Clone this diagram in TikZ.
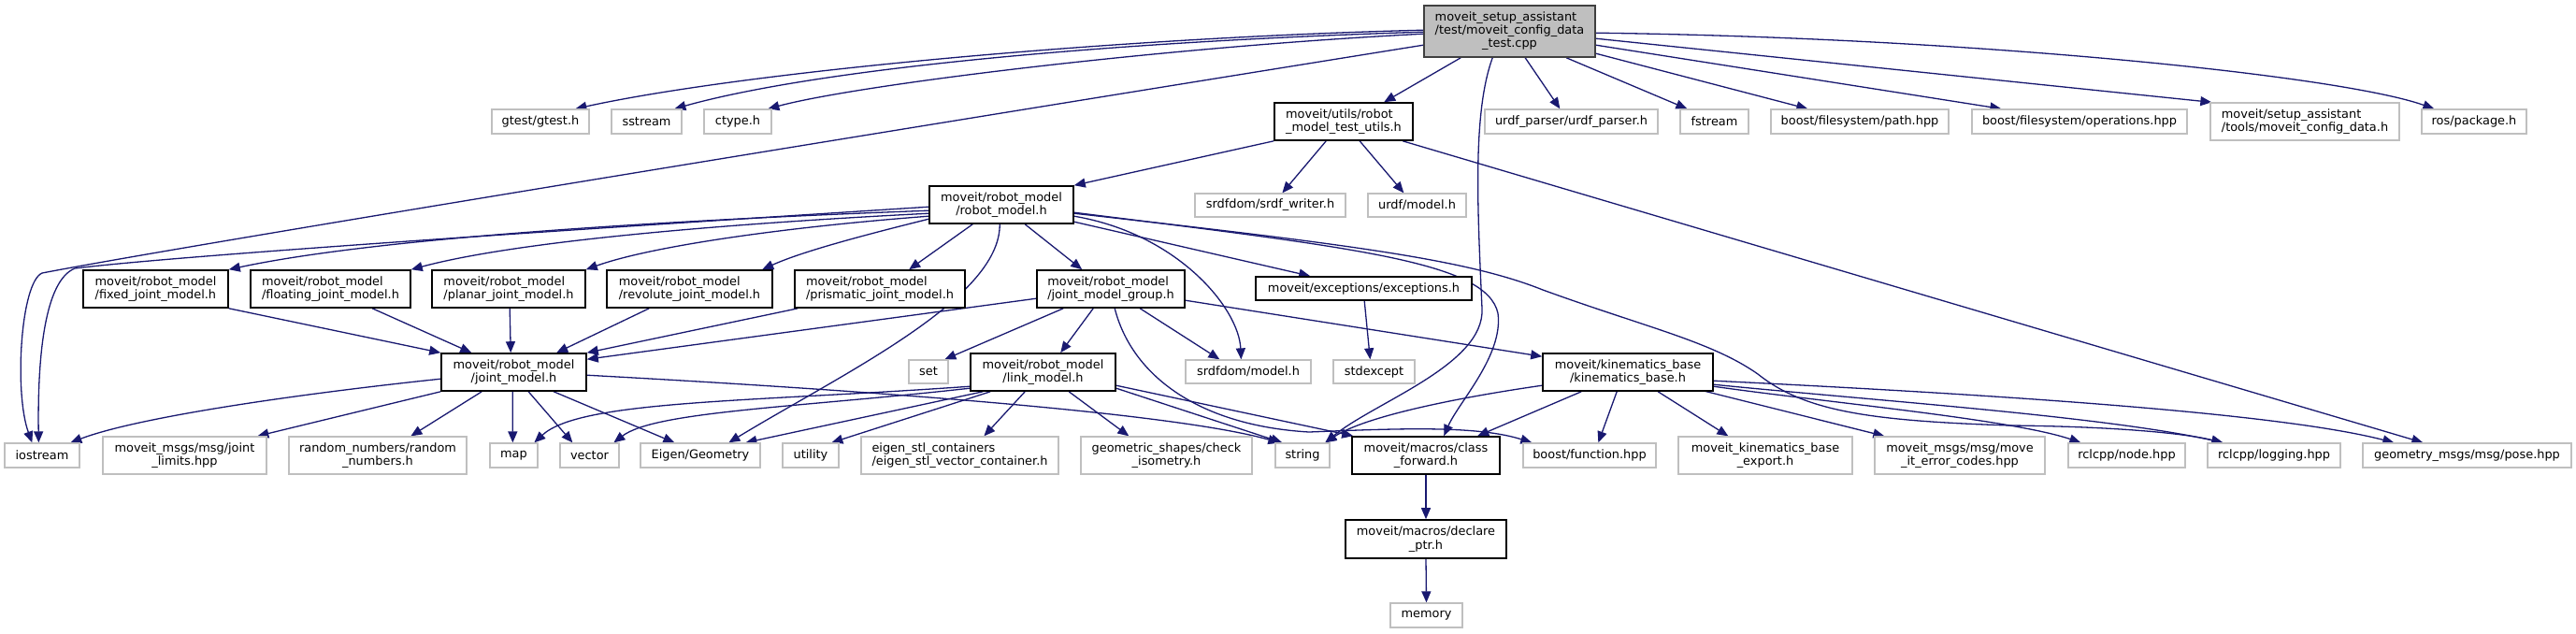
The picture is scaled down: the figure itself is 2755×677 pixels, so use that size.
\documentclass[tikz,border=0pt]{standalone}
\usepackage{fontspec}
\setmainfont{DejaVu Sans}
\usetikzlibrary{arrows.meta,calc}
\definecolor{edgec}{HTML}{191970}
\definecolor{grayb}{HTML}{BFBFBF}
\definecolor{mainf}{HTML}{BFBFBF}
\definecolor{mainb}{HTML}{404040}
\pgfdeclarelayer{bg}
\pgfsetlayers{bg,main}
\newcommand\mknode[7]{\node[#6,minimum width={(#4-#2)*0.5pt},minimum height={(#5-#3)*0.5pt}] (#1) at ({(#2+#4)/2},{(#3+#5)/2}) {#7};}
\begin{document}
\begin{tikzpicture}[x=0.5pt,y=-0.5pt,
  font=\fontsize{6.45pt}{7.15pt}\selectfont,
  gb/.style={draw=grayb,line width=0.65pt,fill=white,inner sep=0pt,align=center},
  bb/.style={draw=black,line width=0.8pt,fill=white,inner sep=0pt,align=center},
  mb/.style={draw=mainb,line width=0.8pt,fill=mainf,inner sep=0pt,align=center},
  lf/.style={align=left},
  e/.style={draw=edgec,line width=0.65pt,-{Triangle[length=6pt,width=5pt]}}]
\path[use as bounding box] (0,0) rectangle (2755,677);
% row 0
\mknode{main}{1523}{6}{1706}{61}{mb}{\begin{tabular}{@{}l@{}}moveit\_setup\_assistant\\/test/moveit\_config\_data\\\multicolumn{1}{@{}c@{}}{\_test.cpp}\end{tabular}}
% row 1
\mknode{gtest}{526}{117}{630}{143}{gb}{gtest/gtest.h}
\mknode{sstream}{654}{117}{729}{143}{gb}{sstream}
\mknode{ctype}{753}{117}{825}{143}{gb}{ctype.h}
\mknode{utils}{1363}{110}{1511}{150}{bb,lf}{moveit/utils/robot\\\_model\_test\_utils.h}
\mknode{urdfp}{1588}{117}{1773}{143}{gb}{urdf\_parser/urdf\_parser.h}
\mknode{fstream}{1797}{117}{1870}{143}{gb}{fstream}
\mknode{path}{1894}{117}{2084}{143}{gb}{boost/filesystem/path.hpp}
\mknode{ops}{2109}{117}{2339}{143}{gb}{boost/filesystem/operations.hpp}
\mknode{tools}{2364}{110}{2566}{150}{gb,lf}{moveit/setup\_assistant\\/tools/moveit\_config\_data.h}
\mknode{ros}{2590}{117}{2702}{143}{gb}{ros/package.h}
% row 2
\mknode{rm}{994}{199}{1148}{239}{bb}{moveit/robot\_model\\/robot\_model.h}
\mknode{srdfw}{1278}{207}{1439}{232}{gb}{srdfdom/srdf\_writer.h}
\mknode{urdfm}{1463}{207}{1568}{232}{gb}{urdf/model.h}
% row 3
\mknode{fixed}{89}{289}{244}{329}{bb,lf}{moveit/robot\_model\\/fixed\_joint\_model.h}
\mknode{floating}{268}{289}{439}{329}{bb,lf}{moveit/robot\_model\\/floating\_joint\_model.h}
\mknode{planar}{462}{289}{626}{329}{bb,lf}{moveit/robot\_model\\/planar\_joint\_model.h}
\mknode{revolute}{649}{289}{826}{329}{bb,lf}{moveit/robot\_model\\/revolute\_joint\_model.h}
\mknode{prismatic}{850}{289}{1032}{329}{bb,lf}{moveit/robot\_model\\/prismatic\_joint\_model.h}
\mknode{jmg}{1109}{289}{1267}{329}{bb,lf}{moveit/robot\_model\\/joint\_model\_group.h}
\mknode{exc}{1343}{296}{1574}{321}{bb}{moveit/exceptions/exceptions.h}
% row 4
\mknode{jm}{472}{378}{627}{418}{bb}{moveit/robot\_model\\/joint\_model.h}
\mknode{set}{972}{385}{1014}{410}{gb}{set}
\mknode{lm}{1038}{378}{1193}{418}{bb}{moveit/robot\_model\\/link\_model.h}
\mknode{srdfm}{1268}{385}{1402}{410}{gb}{srdfdom/model.h}
\mknode{stdexc}{1426}{385}{1513}{410}{gb}{stdexcept}
\mknode{kb}{1650}{378}{1832}{418}{bb}{moveit/kinematics\_base\\/kinematics\_base.h}
% row 5
\mknode{iostream}{5}{474}{85}{500}{gb}{iostream}
\mknode{jl}{110}{467}{285}{507}{gb}{moveit\_msgs/msg/joint\\\_limits.hpp}
\mknode{rn}{309}{467}{499}{507}{gb}{random\_numbers/random\\\_numbers.h}
\mknode{map}{524}{474}{575}{500}{gb}{map}
\mknode{vector}{599}{474}{662}{500}{gb}{vector}
\mknode{eigen}{685}{474}{813}{500}{gb}{Eigen/Geometry}
\mknode{utility}{837}{474}{897}{500}{gb}{utility}
\mknode{estl}{921}{467}{1132}{507}{gb,lf}{eigen\_stl\_containers\\/eigen\_stl\_vector\_container.h}
\mknode{geo}{1156}{467}{1339}{507}{gb}{geometric\_shapes/check\\\_isometry.h}
\mknode{string}{1364}{474}{1422}{500}{gb}{string}
\mknode{cf}{1446}{467}{1604}{507}{bb}{moveit/macros/class\\\_forward.h}
\mknode{bf}{1629}{474}{1771}{500}{gb}{boost/function.hpp}
\mknode{kbe}{1795}{467}{1981}{507}{gb}{moveit\_kinematics\_base\\\_export.h}
\mknode{ec}{2005}{467}{2187}{507}{gb}{moveit\_msgs/msg/move\\\_it\_error\_codes.hpp}
\mknode{node}{2212}{474}{2337}{500}{gb}{rclcpp/node.hpp}
\mknode{log}{2361}{474}{2503}{500}{gb}{rclcpp/logging.hpp}
\mknode{pose}{2527}{474}{2750}{500}{gb}{geometry\_msgs/msg/pose.hpp}
% row 6-7
\mknode{dp}{1439}{556}{1611}{597}{bb}{moveit/macros/declare\\\_ptr.h}
\mknode{memory}{1487}{645}{1564}{671}{gb}{memory}

\begin{pgfonlayer}{bg}
% main
\draw[e] ($(main.north west)+(0,27)$) .. controls (1200,40) and (800,76) .. ($(gtest.north west)+(90,0)$);
\draw[e] ($(main.north west)+(0,29)$) .. controls (1200,44) and (880,72) .. ($(sstream.north west)+(68,0)$);
\draw[e] ($(main.north west)+(0,31)$) .. controls (1250,50) and (920,90) .. ($(ctype.north west)+(69,0)$);
\draw[e] ($(main.north west)+(0,43)$) .. controls (1000,132) and (200,262) .. (45,292) .. controls (22,302) and (15,420) .. ($(iostream.north west)+(30,0)$);
\draw[e] ($(main.south west)+(40,0)$) -- ($(utils.north west)+(118,0)$);
\draw[e] ($(main.south west)+(74,0)$) .. controls (1575,120) and (1580,220) .. (1585,330) .. controls (1588,390) and (1470,430) .. ($(string.north west)+(54,0)$);
\draw[e] ($(main.south west)+(109,0)$) -- ($(urdfp.north west)+(81,0)$);
\draw[e] ($(main.south west)+(153,0)$) -- ($(fstream.north west)+(8,0)$);
\draw[e] ($(main.north east)+(0,52)$) -- ($(path.north west)+(40,0)$);
\draw[e] ($(main.north east)+(0,43)$) -- ($(ops.north west)+(32,0)$);
\draw[e] ($(main.north east)+(0,36)$) -- ($(tools.north west)+(2,0)$);
\draw[e] ($(main.north east)+(0,30)$) .. controls (2100,40) and (2500,80) .. ($(ros.north west)+(14,0)$);
% utils
\draw[e] (utils.south west) -- (rm.north east);
\draw[e] ($(utils.south west)+(56,0)$) -- ($(srdfw.north west)+(94,0)$);
\draw[e] ($(utils.south west)+(92,0)$) -- ($(urdfm.north west)+(39,0)$);
\draw[e] ($(utils.south west)+(138,0)$) -- ($(pose.north west)+(65,0)$);
% robot_model
\draw[e] ($(rm.north west)+(0,23)$) .. controls (700,240) and (200,272) .. (80,287) .. controls (48,300) and (40,380) .. ($(iostream.north west)+(37,0)$);
\draw[e] ($(rm.north west)+(0,27)$) .. controls (700,236) and (400,255) .. (fixed.north east);
\draw[e] ($(rm.north west)+(0,30)$) .. controls (800,238) and (560,256) .. (floating.north east);
\draw[e] ($(rm.north west)+(0,33)$) .. controls (850,242) and (700,262) .. (planar.north east);
\draw[e] ($(rm.north west)+(0,36)$) .. controls (930,250) and (860,268) .. ($(revolute.north west)+(167,0)$);
\draw[e] ($(rm.south west)+(47,0)$) -- ($(prismatic.north west)+(123,0)$);
\draw[e] ($(rm.south west)+(103,0)$) -- ($(jmg.north west)+(49,0)$);
\draw[e] ($(rm.south west)+(76,0)$) .. controls (1070,320) and (900,400) .. ($(eigen.north west)+(95,0)$);
\draw[e] ($(rm.north east)+(0,33)$) .. controls (1260,250) and (1325,330) .. ($(srdfm.north west)+(60,0)$);
\draw[e] ($(rm.north east)+(0,39)$) -- ($(exc.north west)+(59,0)$);
\draw[e] ($(rm.north east)+(0,29)$) .. controls (1450,265) and (1590,280) .. (1602,335) .. controls (1608,380) and (1560,430) .. ($(cf.north west)+(99,0)$);
\draw[e] ($(rm.north east)+(0,30)$) .. controls (1450,262) and (1570,278) .. (1650,310) .. controls (1760,350) and (1830,365) .. (1880,400) .. controls (1930,440) and (2000,450) .. (2150,455) .. controls (2250,456) and (2330,462) .. ($(log.north west)+(17,0)$);
% joint_model_group
\draw[e] ($(jmg.north west)+(0,31)$) -- ($(jm.north east)+(0,7)$);
\draw[e] ($(jmg.south west)+(29,0)$) -- ($(set.north west)+(39,0)$);
\draw[e] ($(jmg.south west)+(61,0)$) -- ($(lm.north west)+(97,0)$);
\draw[e] ($(jmg.south west)+(84,0)$) .. controls (1210,400) and (1280,455) .. (1400,462) .. controls (1500,458) and (1580,455) .. ($(bf.north west)+(10,0)$);
\draw[e] ($(jmg.south west)+(111,0)$) -- ($(srdfm.north west)+(37,0)$);
\draw[e] ($(jmg.north east)+(0,33)$) -- ($(kb.north west)+(0,4)$);
% joint_model
\draw[e] ($(jm.north west)+(0,28)$) .. controls (330,420) and (150,445) .. ($(iostream.north west)+(71,0)$);
\draw[e] (jm.south west) -- ($(jl.north west)+(166,0)$);
\draw[e] ($(jm.south west)+(44,0)$) -- ($(rn.north west)+(131,0)$);
\draw[e] ($(jm.south west)+(77,0)$) -- ($(map.north west)+(25,0)$);
\draw[e] ($(jm.south west)+(94,0)$) -- ($(vector.north west)+(14,0)$);
\draw[e] ($(jm.south west)+(121,0)$) -- ($(eigen.north west)+(37,0)$);
\draw[e] ($(jm.north east)+(0,24)$) .. controls (900,416) and (1250,440) .. ($(string.north west)+(5,0)$);
% link_model
\draw[e] ($(lm.north west)+(0,36)$) .. controls (800,430) and (620,428) .. ($(map.north west)+(48,0)$);
\draw[e] ($(lm.north west)+(0,38)$) .. controls (850,436) and (700,440) .. ($(vector.north west)+(58,0)$);
\draw[e] ($(lm.south west)+(14,0)$) -- ($(eigen.north west)+(113,0)$);
\draw[e] ($(lm.south west)+(22,0)$) -- ($(utility.north west)+(53,0)$);
\draw[e] ($(lm.south west)+(59,0)$) -- ($(estl.north west)+(132,0)$);
\draw[e] ($(lm.south west)+(106,0)$) -- ($(geo.north west)+(52,0)$);
\draw[e] ($(lm.north east)+(0,38)$) -- ($(string.north west)+(8,0)$);
\draw[e] ($(lm.north east)+(0,35)$) -- ($(cf.north west)+(2,0)$);
% kinematics_base
\draw[e] ($(kb.north west)+(0,35)$) .. controls (1560,425) and (1460,445) .. ($(string.north west)+(54,0)$);
\draw[e] ($(kb.south west)+(42,0)$) -- ($(cf.north west)+(135,0)$);
\draw[e] ($(kb.south west)+(80,0)$) -- ($(bf.north west)+(81,0)$);
\draw[e] ($(kb.south west)+(124,0)$) -- ($(kbe.north west)+(54,0)$);
\draw[e] ($(kb.north east)+(-14,40)$) -- ($(ec.north west)+(11,0)$);
\draw[e] ($(kb.north east)+(0,36)$) .. controls (1950,430) and (2150,448) .. ($(node.north west)+(14,0)$);
\draw[e] ($(kb.north east)+(0,34)$) .. controls (2000,428) and (2250,445) .. ($(log.north west)+(17,0)$);
\draw[e] ($(kb.north east)+(0,30)$) .. controls (2200,425) and (2450,445) .. ($(pose.north west)+(34,0)$);
% others
\draw[e] ($(exc.south west)+(117,0)$) -- ($(stdexc.north west)+(40,0)$);
\draw[e] (cf.south) -- (dp.north);
\draw[e] (dp.south) -- (memory.north);
\draw[e] (fixed.south east) -- (jm.north west);
\draw[e] ($(floating.south west)+(131,0)$) -- ($(jm.north west)+(33,0)$);
\draw[e] ($(planar.south west)+(84,0)$) -- ($(jm.north west)+(75,0)$);
\draw[e] ($(revolute.south west)+(46,0)$) -- ($(jm.north west)+(124,0)$);
\draw[e] ($(prismatic.south west)+(4,0)$) -- (jm.north east);
\end{pgfonlayer}
\end{tikzpicture}
\end{document}
